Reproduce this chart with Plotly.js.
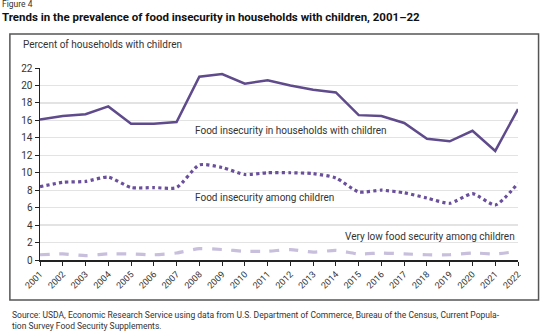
<!DOCTYPE html>
<html><head><meta charset="utf-8">
<script src="https://cdn.plot.ly/plotly-3.0.1.min.js"></script>
<style>html,body{margin:0;padding:0;background:#fff;}#chart{width:560px;height:334px;}</style>
</head><body><div id="chart"></div>
<script>
const years = [2001,2002,2003,2004,2005,2006,2007,2008,2009,2010,2011,2012,2013,2014,2015,2016,2017,2018,2019,2020,2021,2022];
const householdsInsecure = [16.1,16.5,16.7,17.6,15.6,15.6,15.8,21.0,21.3,20.2,20.6,20.0,19.5,19.2,16.6,16.5,15.7,13.9,13.6,14.8,12.5,17.3];
const childrenInsecure = [8.4,8.9,9.0,9.5,8.3,8.3,8.3,10.9,10.6,9.8,10.0,10.0,9.9,9.4,7.8,8.0,7.7,7.1,6.5,7.6,6.3,8.8];
const childrenVeryLow = [0.6,0.7,0.5,0.7,0.7,0.6,0.8,1.3,1.2,1.0,1.0,1.2,0.9,1.1,0.7,0.8,0.7,0.6,0.6,0.8,0.7,1.0];
const yTicks = [0,2,4,6,8,10,12,14,16,18,20,22];
const seriesLabels = ["Food insecurity in households with children","Food insecurity among children","Very low food security among children"];

const traces = [
  {x: years, y: householdsInsecure, mode:'lines', line:{color:'#5f4a8b', width:2.5}, hoverinfo:'skip'},
  {x: years, y: childrenInsecure, mode:'lines', line:{color:'#6a4f9c', width:3.2, dash:'dot', shape:'spline', smoothing:0.6}, hoverinfo:'skip'},
  {x: years, y: childrenVeryLow, mode:'lines', line:{color:'#c7bfdc', width:3.2, dash:'dash', shape:'spline', smoothing:0.6}, hoverinfo:'skip'}
];
const font = 'Roboto, "Open Sans", sans-serif';
const layout = {
  width:560, height:334,
  margin:{l:40, r:42, t:68, b:74},
  showlegend:false,
  paper_bgcolor:'#fff', plot_bgcolor:'#fff',
  font:{family:font, color:'#333', size:9},
  xaxis:{range:[2001,2022], tickmode:'array', tickvals:years, ticktext:years.map(String), tickangle:-45,
    showgrid:false, zeroline:false, showline:true, linecolor:'#222', linewidth:1.5,
    ticks:'outside', ticklen:4, tickcolor:'#222', tickfont:{size:9, color:'#333'}, fixedrange:true},
  yaxis:{range:[0,22], tickmode:'array', tickvals:yTicks, showgrid:true, gridcolor:'#e3e3e3', gridwidth:1.2,
    zeroline:false, showline:true, linecolor:'#222', linewidth:1.5, ticks:'outside', ticklen:4, tickcolor:'#222',
    tickfont:{size:10, color:'#333'}, fixedrange:true},
  shapes:[{type:'rect', xref:'paper', yref:'paper', x0:-0.063, x1:1.043, y0:-0.208, y1:1.177,
    line:{color:'#555', width:1.5}, fillcolor:'rgba(0,0,0,0)'}],
  annotations:[
    {xref:'paper', yref:'paper', x:-0.083, y:1.332, xanchor:'left', yanchor:'middle', showarrow:false,
      text:'Figure 4', font:{size:8.5, color:'#333'}},
    {xref:'paper', yref:'paper', x:-0.083, y:1.266, xanchor:'left', yanchor:'middle', showarrow:false,
      text:'<b>Trends in the prevalence of food insecurity in households with children, 2001–22</b>', font:{size:11.5, color:'#111'}},
    {xref:'paper', yref:'paper', x:-0.04, y:1.12, xanchor:'left', yanchor:'middle', showarrow:false,
      text:'Percent of households with children', font:{size:10, color:'#333'}},
    {x:2007.7, y:14.8, xanchor:'left', yanchor:'middle', showarrow:false, text:seriesLabels[0], font:{size:10, color:'#333'}},
    {x:2007.7, y:7.2, xanchor:'left', yanchor:'middle', showarrow:false, text:seriesLabels[1], font:{size:10, color:'#333'}},
    {x:2014.3, y:2.7, xanchor:'left', yanchor:'middle', showarrow:false, text:seriesLabels[2], font:{size:10, color:'#333'}},
    {xref:'paper', yref:'paper', x:-0.063, y:-0.25, xanchor:'left', yanchor:'top', showarrow:false, align:'left',
      text:'Source: USDA, Economic Research Service using data from U.S. Department of Commerce, Bureau of the Census, Current Popula-<br>tion Survey Food Security Supplements.',
      font:{size:8.5, color:'#333'}}
  ]
};
Plotly.newPlot('chart', traces, layout, {staticPlot:true, displayModeBar:false});
</script></body></html>
